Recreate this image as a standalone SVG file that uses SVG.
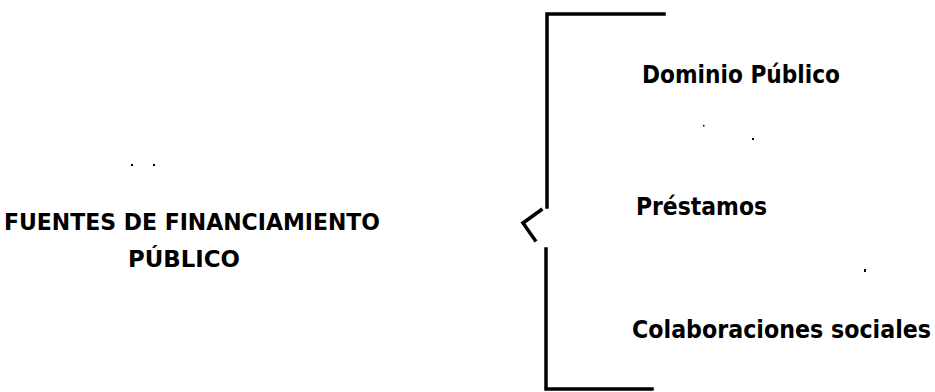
<svg xmlns="http://www.w3.org/2000/svg" width="935" height="392" viewBox="0 0 935 392">
<style>
.t{font-family:"DejaVu Sans Condensed","DejaVu Sans","Liberation Sans",sans-serif;font-weight:bold;fill:#000}
.b{fill:none;stroke:#000;stroke-width:3.5;stroke-linecap:square;stroke-linejoin:miter}
.s{fill:#000}
</style>
<rect width="935" height="392" fill="#fff"/>
<g id="root-node">
<text class="t" x="4" y="230" font-size="23" textLength="376" lengthAdjust="spacingAndGlyphs">FUENTES DE FINANCIAMIENTO</text>
<text class="t" x="128" y="267" font-size="23" textLength="112" lengthAdjust="spacingAndGlyphs">PÚBLICO</text>
</g>
<g id="connectors">
<path class="b" d="M664 14 H547 V207"/>
<path class="b" d="M546 249 V389 H652"/>
<path class="b" d="M541 210 L523 223 L535 240" stroke-width="2.5" stroke-linecap="butt"/>
</g>
<g id="node-dominio">
<text class="t" x="642" y="83" font-size="24" textLength="198" lengthAdjust="spacingAndGlyphs">Dominio Público</text>
</g>
<g id="node-prestamos">
<text class="t" x="636" y="215" font-size="24" textLength="131" lengthAdjust="spacingAndGlyphs">Préstamos</text>
</g>
<g id="node-colaboraciones">
<text class="t" x="632" y="338" font-size="24" textLength="299" lengthAdjust="spacingAndGlyphs">Colaboraciones sociales</text>
</g>
<g id="specks">
<rect class="s" x="131" y="164" width="2" height="2"/>
<rect class="s" x="153" y="164" width="2" height="2"/>
<rect class="s" x="703" y="125" width="1.5" height="1.5"/>
<rect class="s" x="752" y="138" width="2" height="2"/>
<rect class="s" x="864" y="269" width="2" height="3"/>
</g>
</svg>
